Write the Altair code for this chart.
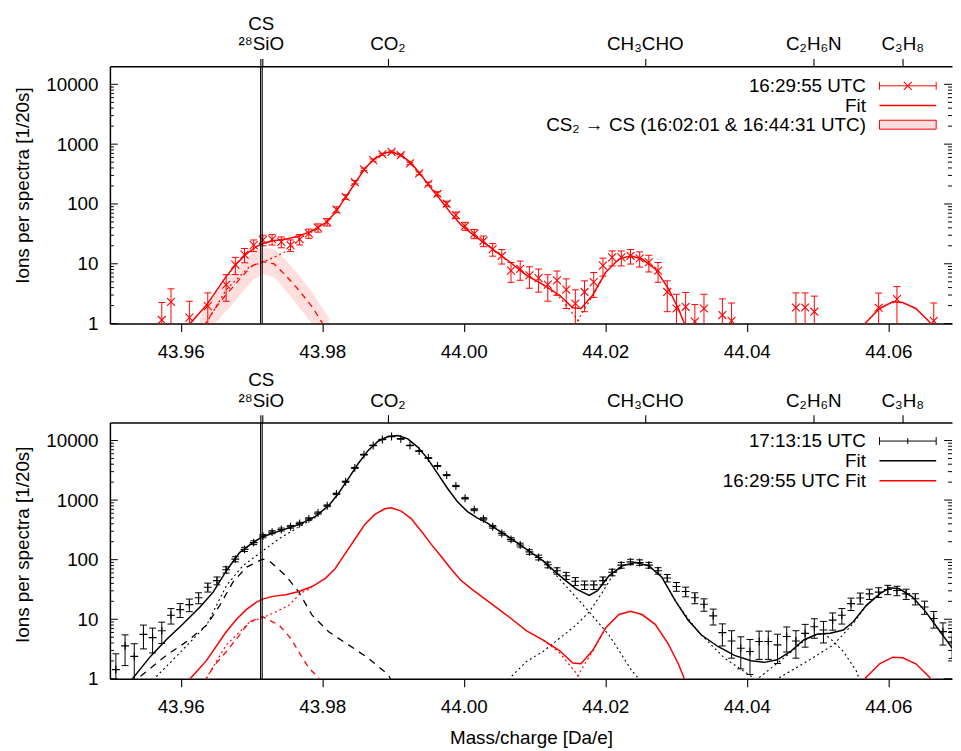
import altair as alt
import pandas as pd

W, H = 851, 260
FONT = "Liberation Sans"

# ---------------- axes / annotation values ----------------
x_ticks = [43.96, 43.98, 44.00, 44.02, 44.04, 44.06]
y_major = [1, 10, 100, 1000, 10000]
y_minor = [2, 3, 4, 5, 6, 7, 8, 9, 20, 30, 40, 50, 60, 70, 80, 90,
           200, 300, 400, 500, 600, 700, 800, 900,
           2000, 3000, 4000, 5000, 6000, 7000, 8000, 9000]
mol_mass = [43.97129, 43.97152, 43.98928, 44.02566, 44.04947, 44.06205]
cs_lines = [43.97129, 43.97152]
lab_row1_m = [43.9714, 43.98928, 44.02566, 44.04947, 44.06205]
lab_row1_t = ["²⁸SiO", "CO₂", "CH₃CHO", "C₂H₆N", "C₃H₈"]
lab_row2_m = [43.9714]
lab_row2_t = ["CS"]

# ---------------- top panel data (16:29:55 UTC) ----------------
top_mass = [43.95733, 43.95863, 43.96123, 43.96383, 43.96642, 43.96772, 43.96902, 43.97032,
            43.97162, 43.97292, 43.97422, 43.97552, 43.97681, 43.97811, 43.97941, 43.98071,
            43.98201, 43.98331, 43.98461, 43.98590, 43.98720, 43.98850, 43.98980, 43.99110,
            43.99240, 43.99370, 43.99500, 43.99629, 43.99759, 43.99889, 44.00019, 44.00149,
            44.00279, 44.00409, 44.00538, 44.00668, 44.00798, 44.00928, 44.01058, 44.01188,
            44.01318, 44.01448, 44.01577, 44.01707, 44.01837, 44.01967, 44.02097, 44.02227,
            44.02357, 44.02486, 44.02616, 44.02746, 44.02876, 44.03006, 44.03136, 44.03266,
            44.03395, 44.03655, 44.03785, 44.04694, 44.04824, 44.04954, 44.05863, 44.06122,
            44.06642]
top_val = [1.15, 2.31, 1.26, 1.96, 4.46, 9.7, 14.2, 20.5, 25, 25.7, 23.3, 20.5, 25.7, 32.3,
           40.1, 49.8, 80.5, 131, 231, 379, 540, 677, 742, 653,
           476, 325, 217, 148, 101, 65, 42.8, 31.9, 24.2, 17.6,
           13.6, 7.7, 8.2, 6.4, 5.76, 4.47, 5.27, 3.69, 2.17, 3.38,
           4.94, 9.33, 12.8, 12.8, 13.6, 12.3, 10.6, 7.7, 3.38, 1.79,
           1.91, 1.08, 1.79, 1.39, 1.11, 1.86, 1.86, 1.58, 1.84, 2.56, 1.11]
top_err = [1.1, 1.5, 1.1, 1.3, 2.1, 3.1, 3.8, 4.5, 5.0, 5.1, 4.8, 4.5, 5.1, 5.7,
           6.3, 7.1, 9.0, 11.4, 15.2, 19.5, 23.2, 26.0, 27.2, 25.6,
           21.8, 18.0, 14.7, 12.2, 10.0, 8.1, 6.5, 5.6, 4.9, 4.2,
           3.7, 2.8, 2.9, 2.5, 2.4, 2.1, 2.3, 1.9, 1.5, 1.8,
           2.2, 3.1, 3.6, 3.6, 3.7, 3.5, 3.3, 2.8, 1.8, 1.3,
           1.4, 1.0, 1.3, 1.2, 1.1, 1.4, 1.4, 1.3, 1.4, 1.6, 1.1]

# ---------------- bottom panel data (17:13:15 UTC) ----------------
bot_mass = [43.95084, 43.95214, 43.95344, 43.95474, 43.95603, 43.95733, 43.95863, 43.95993,
            43.96123, 43.96253, 43.96383, 43.96513, 43.96642, 43.96772, 43.96902, 43.97032,
            43.97162, 43.97292, 43.97422, 43.97552, 43.97681, 43.97811, 43.97941, 43.98071,
            43.98201, 43.98331, 43.98461, 43.98590, 43.98720, 43.98850, 43.98980, 43.99110,
            43.99240, 43.99370, 43.99500, 43.99629, 43.99759, 43.99889, 44.00019, 44.00149,
            44.00279, 44.00409, 44.00538, 44.00668, 44.00798, 44.00928, 44.01058, 44.01188,
            44.01318, 44.01448, 44.01577, 44.01707, 44.01837, 44.01967, 44.02097, 44.02227,
            44.02357, 44.02486, 44.02616, 44.02746, 44.02876, 44.03006, 44.03136, 44.03266,
            44.03395, 44.03525, 44.03655, 44.03785, 44.03915, 44.04045, 44.04175, 44.04304,
            44.04434, 44.04564, 44.04694, 44.04824, 44.04954, 44.05084, 44.05213, 44.05343,
            44.05473, 44.05603, 44.05733, 44.05863, 44.05993, 44.06122, 44.06252, 44.06382,
            44.06512, 44.06642, 44.06772, 44.06902]
bot_val = [1.43, 3.57, 2.38, 5.58, 4.92, 6.43, 11.7, 14.5, 17.6, 23,
           34.5, 44.5, 67.7, 102, 149, 193, 249, 290, 321, 356,
           404, 483, 607, 803, 1271, 2033, 3473, 5794, 8260, 10400,
           11650, 10660, 8260, 6640, 5090, 3745, 2624, 1722, 1076, 689,
           483, 356, 275, 219, 176, 135, 109, 82, 65, 53.8,
           43.5, 37.7, 37.7, 44.5, 61.4, 81, 91.9, 89.8, 81, 65.2,
           49.3, 35.4, 29.2, 23, 17.8, 11.4, 5.96, 4.32, 3.27, 2.88,
           4.22, 4.22, 3.71, 5.12, 4.32, 5.8, 7.5, 6.6, 9.66, 11.7,
           18.3, 22.7, 26.7, 28.5, 31.5, 30.3, 26.7, 22.1, 16.1, 10.3,
           6.19, 4.2]
bot_err = [1.2, 1.9, 1.5, 2.4, 2.2, 2.5, 3.4, 3.8, 4.2, 4.8,
           5.9, 6.7, 8.2, 10, 12, 14, 16, 17, 18, 19,
           20, 22, 25, 28, 36, 45, 59, 76, 91, 102,
           108, 103, 91, 81, 71, 61, 51, 41, 33, 26,
           22, 19, 17, 15, 13, 12, 10, 9, 8, 7.3,
           6.6, 6.1, 6.1, 6.7, 7.8, 9, 9.6, 9.5, 9, 8.1,
           7, 6, 5.4, 4.8, 4.2, 3.4, 2.4, 2.1, 1.8, 1.7,
           2.1, 2.1, 1.9, 2.3, 2.1, 2.4, 2.7, 2.6, 3.1, 3.4,
           4.3, 4.8, 5.2, 5.3, 5.6, 5.5, 5.2, 4.7, 4.0, 3.2,
           2.5, 2.0]

# ---------------- 16:29:55 UTC fit (red) ----------------
red_fit_a_m = [43.96049, 43.96133, 43.96366, 43.96636, 43.96786, 43.96926, 43.97066, 43.97158,
               43.97298, 43.97485, 43.97671, 43.97857, 43.98045, 43.98185, 43.98324, 43.98464,
               43.98604, 43.98744, 43.98884, 43.98976, 43.99116, 43.99256, 43.99396, 43.99536,
               43.99676, 43.99815, 43.99955, 44.00095, 44.00283, 44.00469, 44.00655, 44.00888,
               44.01122, 44.01354, 44.01541, 44.01657, 44.01821, 44.02007, 44.02193, 44.02357,
               44.02520, 44.02706, 44.02892, 44.03032, 44.03116, 44.03182]
red_fit_a_v = [0.75, 1.0, 2.04, 5.98, 9.93, 14.5, 19.2, 21.8, 24.2, 25.7, 29.2, 35.4, 48.5, 71.0,
               126, 222, 394, 575, 714, 743, 653, 489, 305, 184, 115, 71.0, 45.5, 33.2, 22.6,
               15.5, 10.6, 6.38, 4.47, 2.98, 1.84, 1.79, 2.98, 7.24, 12.0, 13.6, 12.0, 8.2,
               3.83, 1.79, 1.01, 0.65]
red_fit_b_m = [44.05615, 44.05667, 44.05877, 44.06063, 44.06203, 44.06389, 44.06576, 44.06636]
red_fit_b_v = [0.8, 1.0, 1.79, 2.31, 2.25, 1.79, 1.08, 0.85]

# CS2 -> CS reference profile (band + centre line)
band_m = [43.96273, 43.96366, 43.96483, 43.96636, 43.96878, 43.97014, 43.97158, 43.97322,
          43.97485, 43.97671, 43.97857, 43.97975, 43.98091]
band_c = [0.6, 1.07, 1.79, 2.98, 6.38, 9.33, 10.9, 9.93, 6.38, 3.61, 1.91, 1.15, 0.65]
band_lo = [0.355, 0.60, 1.0, 1.58, 3.39, 5.25, 6.76, 6.03, 3.55, 1.86, 1.0, 0.63, 0.40]
band_hi = [1.26, 1.91, 3.09, 5.25, 10.7, 15.8, 18.6, 17.6, 11.7, 6.46, 3.39, 2.0, 1.26]

# red fit components
red_cs_m = [43.96273, 43.96366, 43.96483, 43.96646, 43.96832, 43.96972, 43.97158, 43.97392,
            43.97555, 43.97695, 43.97811, 43.97951, 43.98007]
red_cs_v = [0.6, 1.04, 1.73, 2.88, 5.43, 9.08, 11.0, 7.96, 4.79, 2.53, 1.52, 1.04, 0.7]
red_co2l_m = [43.96273, 43.96366, 43.96646, 43.96972, 43.97158, 43.97345, 43.97531, 43.97695, 43.97857]
red_co2l_v = [0.6, 1.04, 3.72, 8.9, 10.6, 13.3, 17.1, 27.5, 33.5]
red_co2r_m = [44.01122, 44.01354, 44.01518, 44.01657, 44.01727]
red_co2r_v = [4.47, 2.75, 1.58, 1.0, 0.7]
red_ald_m = [44.01476, 44.01587, 44.01704, 44.01821, 44.02007]
red_ald_v = [0.7, 1.0, 1.74, 2.88, 7.1]

# ---------------- 17:13:15 UTC fit (black) ----------------
blk_fit_m = [43.95224, 43.95317, 43.95573, 43.95807, 43.96039, 43.96273, 43.96459, 43.96646,
             43.96832, 43.97018, 43.97158, 43.97392, 43.97671, 43.97905, 43.98091, 43.98231,
             43.98371, 43.98510, 43.98650, 43.98790, 43.98930, 43.99070, 43.99210, 43.99350,
             43.99489, 43.99629, 43.99769, 43.99909, 44.00049, 44.00189, 44.00329, 44.00469,
             44.00655, 44.00888, 44.01122, 44.01354, 44.01587, 44.01773, 44.01891, 44.02053,
             44.02241, 44.02427, 44.02613, 44.02800, 44.02986, 44.03172, 44.03359, 44.03592,
             44.03825, 44.04059, 44.04245, 44.04431, 44.04618, 44.04804, 44.04990, 44.05178,
             44.05364, 44.05504, 44.05690, 44.05877, 44.06017, 44.06157, 44.06343, 44.06529,
             44.06716, 44.06902]
blk_fit_v = [0.5, 1.0, 2.38, 4.67, 8.49, 16.1, 28.5, 65.2, 131.5, 193, 243, 301, 388, 533,
             804, 1303, 2312, 4102, 6823, 9727, 11641, 12106, 10666, 7745, 4966, 2799, 1578,
             946, 646, 501, 414, 321, 233, 149, 95.5, 53.8, 32.4, 25.1, 30.3, 53.8, 78.9,
             89.7, 78.9, 50.7, 20.7, 9.64, 5.43, 3.49, 2.47, 2.01, 1.89, 2.09, 2.88, 4.49,
             5.58, 5.81, 6.59, 9.08, 17.1, 26.7, 33.7, 32.4, 23.6, 13.3, 6.59, 3.27]
blk_cs_m = [43.95294, 43.95387, 43.95573, 43.95807, 43.96087, 43.96366, 43.96552, 43.96738,
            43.96926, 43.97158, 43.97252, 43.97485, 43.97671, 43.97857, 43.98091, 43.98371,
            43.98650, 43.98930, 43.99014]
blk_cs_v = [0.8, 1.0, 1.51, 2.53, 4.23, 7.96, 17.1, 41.9, 74.3, 102, 95.5, 53.8, 28.5, 11.7,
            6.17, 3.72, 2.23, 1.18, 0.8]
blk_co2l_m = [43.95573, 43.95643, 43.96039, 43.96366, 43.96646, 43.96878, 43.97158, 43.97392,
              43.97671, 43.97905]
blk_co2l_v = [0.8, 1.05, 3.16, 7.96, 36.7, 78.9, 140, 225, 355, 513]
blk_co2r_m = [44.01122, 44.01354, 44.01773, 44.02053, 44.02380, 44.02473, 44.02510]
blk_co2r_v = [95.5, 47.4, 13.3, 5.43, 1.34, 1.0, 0.8]
blk_aldl_m = [44.00608, 44.00655, 44.00888, 44.01122, 44.01354, 44.01587, 44.01773, 44.01961,
              44.02101, 44.02241]
blk_aldl_v = [0.8, 1.04, 1.96, 2.88, 4.79, 7.96, 13.3, 28.5, 53.8, 75.9]
blk_aldr_m = [44.02800, 44.03032, 44.03312, 44.03685, 44.04059, 44.04133]
blk_aldr_v = [50, 17.1, 6.19, 2.23, 1.11, 0.8]
blk_c2h6n_m = [44.04077, 44.04151, 44.04524, 44.04804, 44.04990, 44.05098, 44.05224, 44.05364,
               44.05550, 44.05615]
blk_c2h6n_v = [0.8, 1.0, 2.23, 4.33, 5.58, 5.75, 4.23, 2.88, 1.34, 0.8]
blk_c3h8_m = [44.04357, 44.04431, 44.04850, 44.05224, 44.05504, 44.05690, 44.05877]
blk_c3h8_v = [0.8, 1.0, 1.96, 3.72, 8.49, 17.1, 26.3]

# ---------------- helpers ----------------
xs = alt.Scale(domain=[43.95, 44.069], nice=False, zero=False)
ys = alt.Scale(type="log", domain=[1, 20000], nice=False)
CAP = "M-1,0L1,0"
XMARK = "M-1,-1L1,1M-1,1L1,-1"
PLUS = "M-1,0L1,0M0,-1L0,1"
PINK = "#ffdede"
ONE = pd.DataFrame({"a": [0]})


def X(axis=None):
    return alt.X("m:Q", scale=xs, axis=axis)


def Y(field="v", axis=None):
    return alt.Y(field + ":Q", scale=ys, axis=axis)


def line_layer(segs, color, width, dash=None):
    rows = []
    for i, (ms, vs) in enumerate(segs):
        for m, v in zip(ms, vs):
            rows.append({"m": m, "v": v, "seg": i})
    kw = dict(color=color, strokeWidth=width, clip=True)
    if dash:
        kw["strokeDash"] = dash
    return alt.Chart(pd.DataFrame(rows)).mark_line(**kw).encode(x=X(), y=Y(), detail="seg:N")


def err_layers(ms, vs, es, color, marker, x_axis):
    df = pd.DataFrame({"m": ms, "v": vs,
                       "lo": [max(v - e, 0.1) for v, e in zip(vs, es)],
                       "hi": [v + e for v, e in zip(vs, es)]})
    base = alt.Chart(df)
    bars = base.mark_rule(color=color, strokeWidth=1, clip=True).encode(
        x=X(x_axis), y=Y("lo"), y2=alt.Y2("hi"))
    cap_lo = base.mark_point(shape=CAP, size=49, filled=False, color=color, strokeWidth=1,
                             opacity=1, clip=True).encode(x=X(), y=Y("lo"))
    cap_hi = base.mark_point(shape=CAP, size=49, filled=False, color=color, strokeWidth=1,
                             opacity=1, clip=True).encode(x=X(), y=Y("hi"))
    pts = base.mark_point(shape=marker, size=64, filled=False, color=color, strokeWidth=1.1,
                          opacity=1, clip=True).encode(x=X(), y=Y("v"))
    return [bars, cap_lo, cap_hi, pts]


def frame_layers(y_title_y):
    maj = pd.DataFrame({"v": y_major})
    mnr = pd.DataFrame({"v": y_minor})
    yaxis = alt.Axis(orient="left", values=y_major, format="d", ticks=False, tickSize=0,
                     labelPadding=12, title="Ions per spectra [1/20s]", titleX=-88,
                     titleY=y_title_y, titleAngle=270, titleBaseline="middle",
                     titleAlign="center", grid=False, domainWidth=1.5)
    lay = [
        alt.Chart(maj).mark_rule(color="black", strokeWidth=1).encode(
            y=Y("v", yaxis), x=alt.value(0), x2=alt.value(8)),
        alt.Chart(mnr).mark_rule(color="black", strokeWidth=1).encode(
            y=Y("v"), x=alt.value(0), x2=alt.value(4)),
        alt.Chart(maj).mark_rule(color="black", strokeWidth=1).encode(
            y=Y("v"), x=alt.value(W - 8), x2=alt.value(W)),
        alt.Chart(mnr).mark_rule(color="black", strokeWidth=1).encode(
            y=Y("v"), x=alt.value(W - 4), x2=alt.value(W)),
    ]
    top_axis = alt.Axis(orient="top", values=mol_mass, labels=False, tickSize=8, title=None,
                        grid=False, domainWidth=1.5, tickWidth=1.1)
    lay.append(alt.Chart(pd.DataFrame({"m": cs_lines})).mark_rule(
        color="black", strokeWidth=1.1).encode(x=X(top_axis), y=alt.value(0), y2=alt.value(H)))
    lay.append(alt.Chart(pd.DataFrame({"m": lab_row1_m, "t": lab_row1_t})).mark_text(
        font=FONT, fontSize=19, baseline="alphabetic", align="center", color="black").encode(
        x=X(), y=alt.value(-16), text="t:N"))
    lay.append(alt.Chart(pd.DataFrame({"m": lab_row2_m, "t": lab_row2_t})).mark_text(
        font=FONT, fontSize=19, baseline="alphabetic", align="center", color="black").encode(
        x=X(), y=alt.value(-37), text="t:N"))
    return lay


def legend_text(txt, yv):
    return alt.Chart(ONE).mark_text(text=txt, font=FONT, fontSize=19, align="right",
                                    baseline="middle", color="black").encode(
        x=alt.value(764), y=alt.value(yv))


def legend_rule(color, x1, x2, y1, y2=None, width=1.0):
    enc = dict(x=alt.value(x1), x2=alt.value(x2), y=alt.value(y1))
    if y2 is not None:
        enc["y2"] = alt.value(y2)
    return alt.Chart(ONE).mark_rule(color=color, strokeWidth=width).encode(**enc)


LX1, LX2, LXC = 777.7, 835, 806.3
R1, R2, R3 = 19.7, 39.7, 59.0


def x_axis(title):
    kw = dict(orient="bottom", values=x_ticks, format=".2f", tickSize=8, labelPadding=11,
              grid=False, domainWidth=1.5, tickWidth=1.1, titlePadding=12)
    if title:
        kw["title"] = title
    else:
        kw["title"] = None
    return alt.Axis(**kw)


# ---------------- top panel ----------------
band_df = pd.DataFrame({"m": band_m, "lo": band_lo, "hi": band_hi})
top_layers = [
    alt.Chart(band_df).mark_area(color="red", opacity=0.13, clip=True).encode(
        x=X(), y=Y("lo"), y2=alt.Y2("hi")),
    line_layer([(red_co2l_m, red_co2l_v), (red_co2r_m, red_co2r_v), (red_ald_m, red_ald_v)],
               "red", 1.2, [2, 3]),
    line_layer([(band_m, band_c)], "red", 1.3, [6, 5]),
]
top_layers += err_layers(top_mass, top_val, top_err, "red", XMARK, x_axis(None))
top_layers += [line_layer([(red_fit_a_m, red_fit_a_v), (red_fit_b_m, red_fit_b_v)], "red", 1.5)]
top_layers += frame_layers(120)
top_layers += [
    legend_text("16:29:55 UTC", R1),
    legend_text("Fit", R2),
    legend_text("CS₂ → CS (16:02:01 & 16:44:31 UTC)", R3),
    legend_rule("red", LX1, LX2, R1),
    legend_rule("red", LX1, LX1, R1 - 4, R1 + 4),
    legend_rule("red", LX2, LX2, R1 - 4, R1 + 4),
    alt.Chart(ONE).mark_point(shape=XMARK, size=64, filled=False, color="red",
                              strokeWidth=1.1, opacity=1).encode(
        x=alt.value(LXC), y=alt.value(R1)),
    legend_rule("red", LX1, LX2, R2, width=1.5),
    alt.Chart(ONE).mark_rect(fill=PINK, stroke="red", strokeWidth=1).encode(
        x=alt.value(LX1), x2=alt.value(LX2), y=alt.value(R3 - 4.5), y2=alt.value(R3 + 4.5)),
]
top = alt.layer(*top_layers).properties(width=W, height=H).resolve_axis(
    x="independent", y="independent")

# ---------------- bottom panel ----------------
bot_layers = [
    line_layer([(blk_co2l_m, blk_co2l_v), (blk_co2r_m, blk_co2r_v), (blk_aldl_m, blk_aldl_v),
                (blk_aldr_m, blk_aldr_v), (blk_c2h6n_m, blk_c2h6n_v), (blk_c3h8_m, blk_c3h8_v)],
               "black", 1.1, [2, 3]),
    line_layer([(blk_cs_m, blk_cs_v)], "black", 1.3, [7, 6]),
    line_layer([(red_co2l_m, red_co2l_v), (red_co2r_m, red_co2r_v), (red_ald_m, red_ald_v)],
               "red", 1.2, [2, 3]),
    line_layer([(red_cs_m, red_cs_v)], "red", 1.3, [6, 5]),
    line_layer([(red_fit_a_m, red_fit_a_v), (red_fit_b_m, red_fit_b_v)], "red", 1.5),
]
bot_layers += err_layers(bot_mass, bot_val, bot_err, "black", PLUS, x_axis("Mass/charge [Da/e]"))
bot_layers += [line_layer([(blk_fit_m, blk_fit_v)], "black", 1.5)]
bot_layers += frame_layers(123)
bot_layers += [
    legend_text("17:13:15 UTC", R1 - 1),
    legend_text("Fit", R2 - 1),
    legend_text("16:29:55 UTC Fit", R3 - 0.3),
    legend_rule("black", LX1, LX2, R1 - 1),
    legend_rule("black", LX1, LX1, R1 - 5, R1 + 3),
    legend_rule("black", LX2, LX2, R1 - 5, R1 + 3),
    legend_rule("black", LXC, LXC, R1 - 4, R1 + 2),
    legend_rule("black", LX1, LX2, R2 - 1, width=1.5),
    legend_rule("red", LX1, LX2, R3 - 0.3, width=1.5),
]
bottom = alt.layer(*bot_layers).properties(width=W, height=H - 1).resolve_axis(
    x="independent", y="independent")

chart = alt.vconcat(top, bottom, spacing=100, bounds="flush").properties(
    padding={"left": 5, "top": 2, "right": 0, "bottom": 0}
).configure_view(stroke="transparent").configure_axis(
    labelFont=FONT, labelFontSize=19, labelColor="black",
    titleFont=FONT, titleFontSize=19, titleFontWeight="normal", titleColor="black",
    domainColor="black", tickColor="black"
)

chart.save("out.html", embed_options={"renderer": "svg", "actions": False})
